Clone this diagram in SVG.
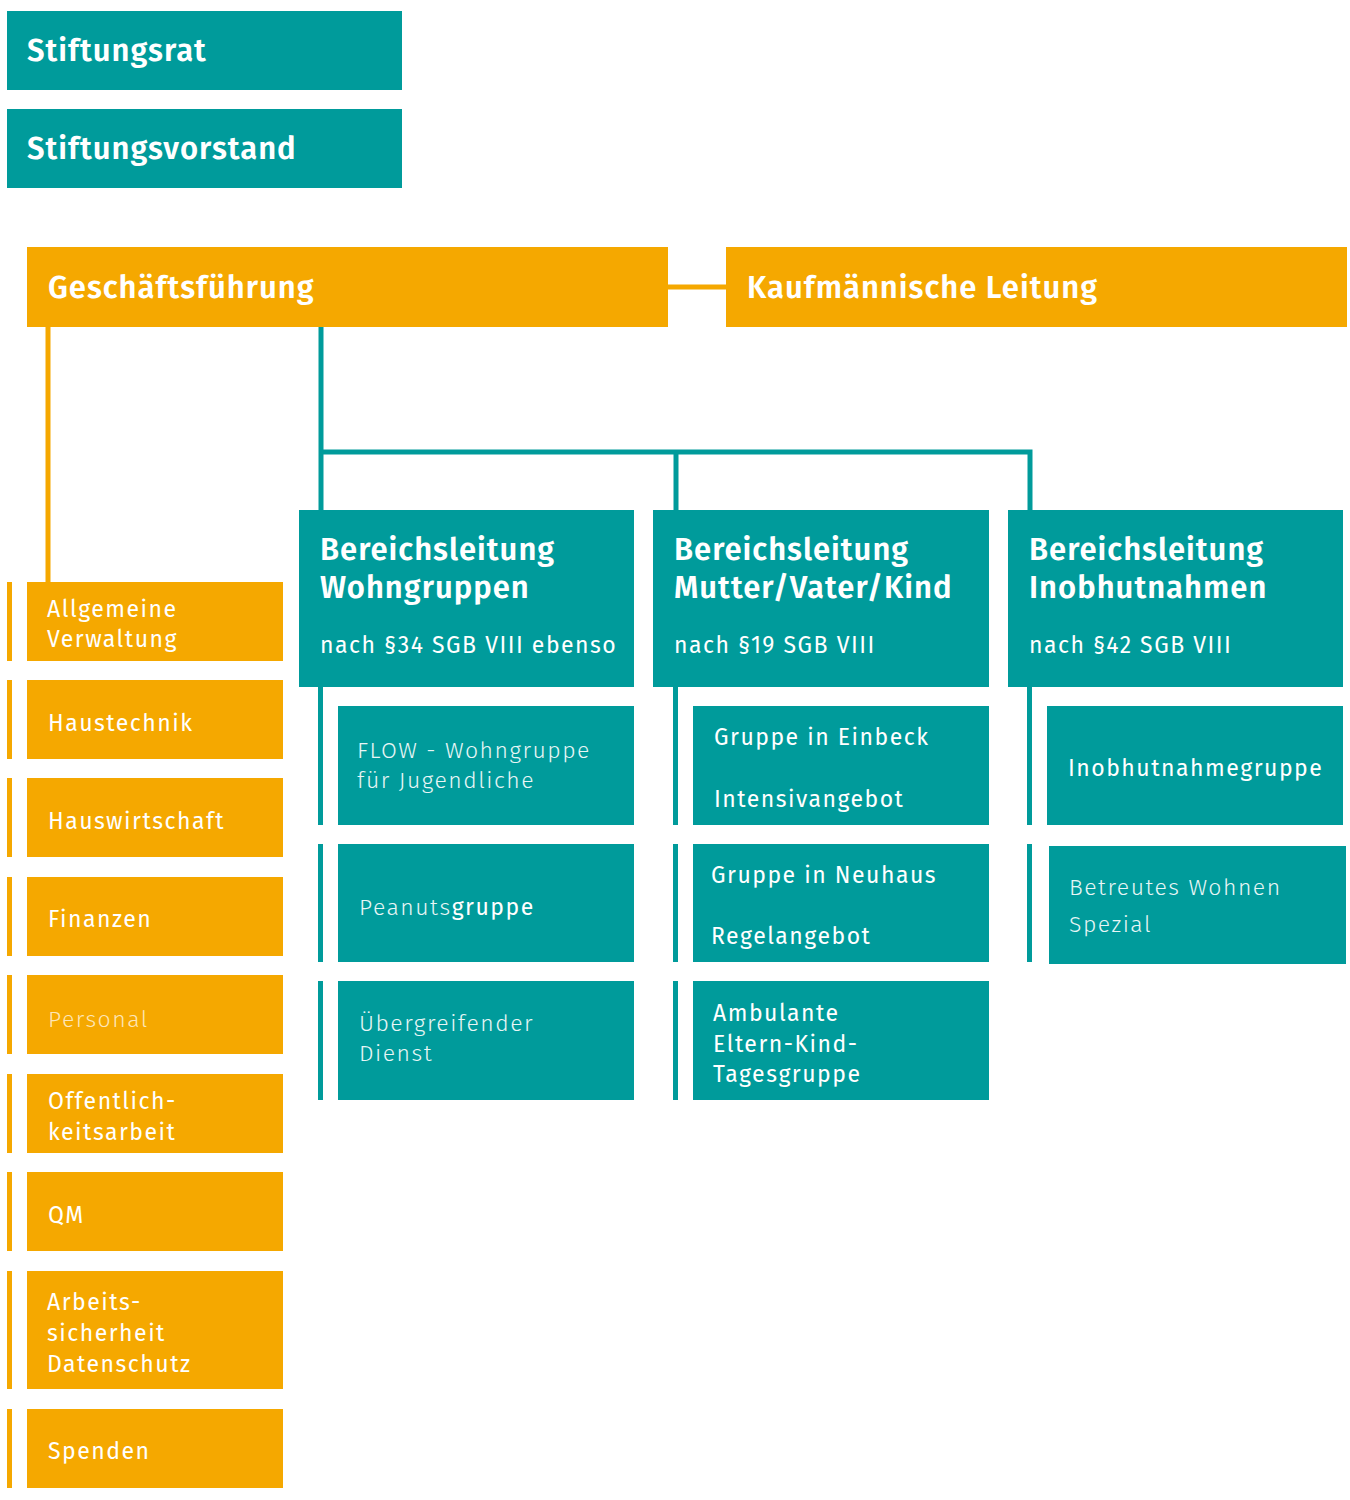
<svg xmlns="http://www.w3.org/2000/svg" width="1350" height="1500" viewBox="0 0 1350 1500">
<style>
.t{fill:#009b9b}.o{fill:#f5a800}
text{font-family:"Fira Sans","Open Sans","Noto Sans",sans-serif;fill:#fff}
.h{font-size:31px;font-weight:600;letter-spacing:1px}
.s{font-size:23px;letter-spacing:1.5px}
.l{font-size:23px;font-weight:300;letter-spacing:1.5px;fill:#e8f6f6}
.ol{fill:#fde6b8}
</style>
<rect width="1350" height="1500" fill="#fff"/>
<g id="connectors" fill="none" stroke-width="5">
<line x1="668" y1="287" x2="726" y2="287" stroke="#f5a800"/>
<line x1="48" y1="327" x2="48" y2="582" stroke="#f5a800"/>
<polyline points="321,327 321,510" stroke="#009b9b"/>
<polyline points="321,452 1030,452 1030,510" stroke="#009b9b"/>
<line x1="676" y1="452" x2="676" y2="510" stroke="#009b9b"/>
</g>
<g id="bars">
<rect class="t" x="318" y="687" width="5" height="138"/><rect class="t" x="318" y="844" width="5" height="118"/><rect class="t" x="318" y="981" width="5" height="119"/>
<rect class="t" x="673" y="687" width="5" height="138"/><rect class="t" x="673" y="844" width="5" height="118"/><rect class="t" x="673" y="981" width="5" height="119"/>
<rect class="t" x="1027" y="687" width="5" height="138"/><rect class="t" x="1027" y="844" width="5" height="118"/>
<rect class="o" x="7" y="582" width="5" height="79"/><rect class="o" x="7" y="680" width="5" height="79"/><rect class="o" x="7" y="778" width="5" height="79"/><rect class="o" x="7" y="877" width="5" height="79"/><rect class="o" x="7" y="975" width="5" height="79"/><rect class="o" x="7" y="1074" width="5" height="79"/><rect class="o" x="7" y="1172" width="5" height="79"/><rect class="o" x="7" y="1271" width="5" height="118"/><rect class="o" x="7" y="1409" width="5" height="79"/>
</g>
<g id="stiftungsrat"><rect class="t" x="7" y="11" width="395" height="79"/><text class="h" x="27" y="61">Stiftungsrat</text></g>
<g id="stiftungsvorstand"><rect class="t" x="7" y="109" width="395" height="79"/><text class="h" x="27" y="159">Stiftungsvorstand</text></g>
<g id="gf"><rect class="o" x="27" y="247" width="641" height="80"/><text class="h" x="48" y="298">Geschäftsführung</text></g>
<g id="kl"><rect class="o" x="726" y="247" width="621" height="80"/><text class="h" x="747" y="298">Kaufmännische Leitung</text></g>
<g id="bl1"><rect class="t" x="299" y="510" width="335" height="177"/><text class="h" x="320" y="560">Bereichsleitung</text><text class="h" x="320" y="598">Wohngruppen</text><text class="s" x="320" y="653">nach §34 SGB VIII ebenso</text></g>
<g id="bl2"><rect class="t" x="653" y="510" width="336" height="177"/><text class="h" x="674" y="560">Bereichsleitung</text><text class="h" x="674" y="598">Mutter/Vater/Kind</text><text class="s" x="674" y="653">nach §19 SGB VIII</text></g>
<g id="bl3"><rect class="t" x="1008" y="510" width="335" height="177"/><text class="h" x="1029" y="560">Bereichsleitung</text><text class="h" x="1029" y="598">Inobhutnahmen</text><text class="s" x="1029" y="653">nach §42 SGB VIII</text></g>
<g id="flow"><rect class="t" x="338" y="706" width="296" height="119"/><text class="l" x="357" y="758">FLOW - Wohngruppe</text><text class="l" x="357" y="788">für Jugendliche</text></g>
<g id="peanuts"><rect class="t" x="338" y="844" width="296" height="118"/><text class="s" x="359" y="915"><tspan class="l">Peanuts</tspan>gruppe</text></g>
<g id="uebergreifend"><rect class="t" x="338" y="981" width="296" height="119"/><text class="l" x="359" y="1031">Übergreifender</text><text class="l" x="359" y="1061">Dienst</text></g>
<g id="einbeck"><rect class="t" x="693" y="706" width="296" height="119"/><text class="s" x="714" y="745">Gruppe in Einbeck</text><text class="s" x="714" y="807">Intensivangebot</text></g>
<g id="neuhaus"><rect class="t" x="693" y="844" width="296" height="118"/><text class="s" x="711" y="883">Gruppe in Neuhaus</text><text class="s" x="711" y="944">Regelangebot</text></g>
<g id="ambulant"><rect class="t" x="693" y="981" width="296" height="119"/><text class="s" x="713" y="1021">Ambulante</text><text class="s" x="713" y="1052">Eltern-Kind-</text><text class="s" x="713" y="1082">Tagesgruppe</text></g>
<g id="inobhut"><rect class="t" x="1047" y="706" width="296" height="119"/><text class="s" x="1068" y="776">Inobhutnahmegruppe</text></g>
<g id="betreut"><rect class="t" x="1049" y="846" width="297" height="118"/><text class="l" x="1069" y="895">Betreutes Wohnen</text><text class="l" x="1069" y="932">Spezial</text></g>
<g id="verwaltung"><rect class="o" x="27" y="582" width="256" height="79"/><text class="s" x="47" y="617">Allgemeine</text><text class="s" x="47" y="647">Verwaltung</text></g>
<g id="haustechnik"><rect class="o" x="27" y="680" width="256" height="79"/><text class="s" x="48" y="731">Haustechnik</text></g>
<g id="hauswirtschaft"><rect class="o" x="27" y="778" width="256" height="79"/><text class="s" x="48" y="829">Hauswirtschaft</text></g>
<g id="finanzen"><rect class="o" x="27" y="877" width="256" height="79"/><text class="s" x="48" y="927">Finanzen</text></g>
<g id="personal"><rect class="o" x="27" y="975" width="256" height="79"/><text class="s ol" x="48" y="1027" style="font-weight:300">Personal</text></g>
<g id="oeffentlich"><rect class="o" x="27" y="1074" width="256" height="79"/><text class="s" x="48" y="1109">Offentlich-</text><text class="s" x="48" y="1140">keitsarbeit</text></g>
<g id="qm"><rect class="o" x="27" y="1172" width="256" height="79"/><text class="s" x="48" y="1223">QM</text></g>
<g id="arbeit"><rect class="o" x="27" y="1271" width="256" height="118"/><text class="s" x="47" y="1310">Arbeits-</text><text class="s" x="47" y="1341">sicherheit</text><text class="s" x="47" y="1372">Datenschutz</text></g>
<g id="spenden"><rect class="o" x="27" y="1409" width="256" height="79"/><text class="s" x="48" y="1459">Spenden</text></g>
</svg>
